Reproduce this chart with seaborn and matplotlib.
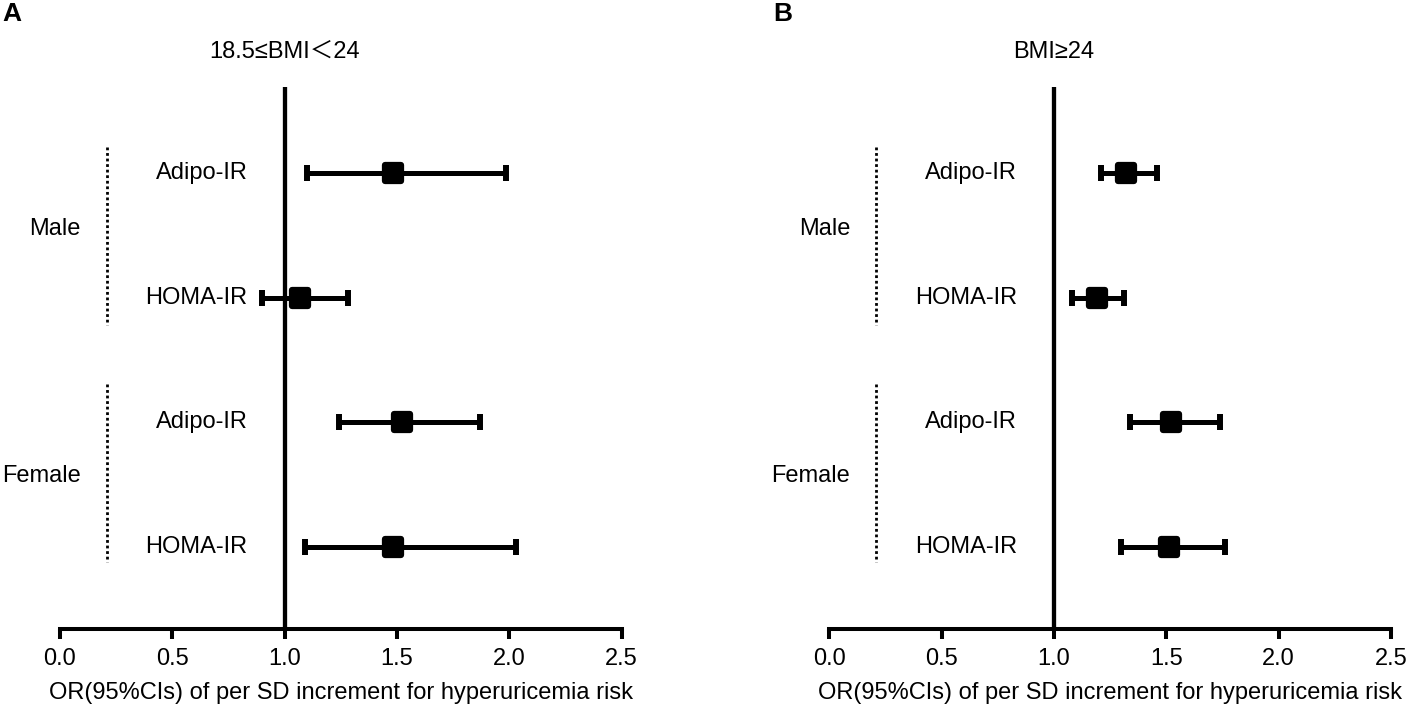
import numpy as np
import pandas as pd
import matplotlib
matplotlib.use("Agg")
import matplotlib.pyplot as plt
from matplotlib.markers import MarkerStyle
import seaborn as sns

# ---- data ----
sexes = ["Male", "Male", "Female", "Female"]
indices = ["Adipo-IR", "HOMA-IR", "Adipo-IR", "HOMA-IR"]

a_or = [1.48, 1.07, 1.52, 1.48]
a_lo = [1.10, 0.90, 1.24, 1.09]
a_hi = [1.985, 1.28, 1.87, 2.03]

b_or = [1.32, 1.19, 1.52, 1.51]
b_lo = [1.21, 1.08, 1.34, 1.30]
b_hi = [1.46, 1.31, 1.74, 1.76]

panel_titles = ["18.5≤BMI＜24", "BMI≥24"]
panel_letters = ["A", "B"]
xticks = [0.0, 0.5, 1.0, 1.5, 2.0, 2.5]
xlabel = "OR(95%CIs) of per SD increment for hyperuricemia risk"
group_names = ["Male", "Female"]

# ---- style ----
sns.set_theme(style="white")
plt.rcParams["font.family"] = ["Liberation Sans", "Noto Sans CJK SC", "DejaVu Sans"]
plt.rcParams["text.color"] = "black"
plt.rcParams["axes.labelcolor"] = "black"
plt.rcParams["xtick.color"] = "black"
plt.rcParams["ytick.color"] = "black"

W, H = 1417, 707
fig = plt.figure(figsize=(W / 100, H / 100), dpi=100)

px_unit = 224.7
ax_bottom_px, ax_top_px = 629, 87
lefts_px = [60, 829.3]

FS = 17

panels = [(a_or, a_lo, a_hi), (b_or, b_lo, b_hi)]
for k, (orv, lo, hi) in enumerate(panels):
    left = lefts_px[k]
    ax = fig.add_axes([left / W, 1 - ax_bottom_px / H, 2.5 * px_unit / W,
                       (ax_bottom_px - ax_top_px) / H])
    df = pd.DataFrame({"sex": sexes, "index": indices, "or": orv,
                       "lo": lo, "hi": hi})
    df["row"] = np.arange(1, len(df) + 1)

    # confidence intervals
    ax.errorbar(df["or"], df["row"],
                xerr=[df["or"] - df["lo"], df["hi"] - df["or"]],
                fmt="none", ecolor="black", elinewidth=3.6,
                capsize=5.8, capthick=4.3, zorder=3)
    # point estimates
    sns.scatterplot(data=df, x="or", y="row", ax=ax,
                    marker=MarkerStyle("s"), s=135, color="black",
                    edgecolor="black", linewidth=4.5, zorder=4, legend=False)
    for c in ax.collections:
        try:
            c.set_joinstyle("round")
        except Exception:
            pass

    ax.axvline(1.0, color="black", lw=3.1, zorder=2)

    ax.set_xlim(0, 2.5)
    ax.set_ylim(4.66, 0.305)
    ax.set_xticks(xticks)
    ax.set_xticklabels([f"{t:.1f}" for t in xticks], fontsize=FS)
    ax.set_yticks([])
    ax.set_ylabel("")
    ax.set_xlabel(xlabel, fontsize=FS, labelpad=8, color="black")
    for s in ["left", "top", "right"]:
        ax.spines[s].set_visible(False)
    ax.spines["bottom"].set_linewidth(2.9)
    ax.spines["bottom"].set_color("black")
    ax.tick_params(axis="x", direction="out", length=7, width=2.9,
                   pad=7, colors="black", labelcolor="black", bottom=True)
    ax.patch.set_alpha(0)

    # row labels
    for r, lab in zip(df["row"], df["index"]):
        ax.text(0.835, r, lab, ha="right", va="center", fontsize=FS,
                color="black", clip_on=False)
    # group labels + dotted brackets
    ax.text(0.093, 1.446, group_names[0], ha="right", va="center",
            fontsize=FS, color="black", clip_on=False)
    ax.text(0.093, 3.43, group_names[1], ha="right", va="center",
            fontsize=FS, color="black", clip_on=False)
    ax.plot([0.21, 0.21], [0.787, 2.217], color="black", lw=2.0,
            linestyle=(0, (1, 1.0)), clip_on=False)
    ax.plot([0.21, 0.21], [2.69, 4.12], color="black", lw=2.0,
            linestyle=(0, (1, 1.0)), clip_on=False)

    # panel title centred on the reference line
    ax.text(1.0, 0.024, panel_titles[k], ha="center", va="center",
            fontsize=FS, color="black", clip_on=False)
    # panel letter
    fig.text((left - 58) / W if k == 0 else 773 / W, 1 - 14 / H,
             panel_letters[k], fontsize=19, fontweight="bold",
             color="black", ha="left", va="center")

fig.savefig("out.png", dpi=100)
